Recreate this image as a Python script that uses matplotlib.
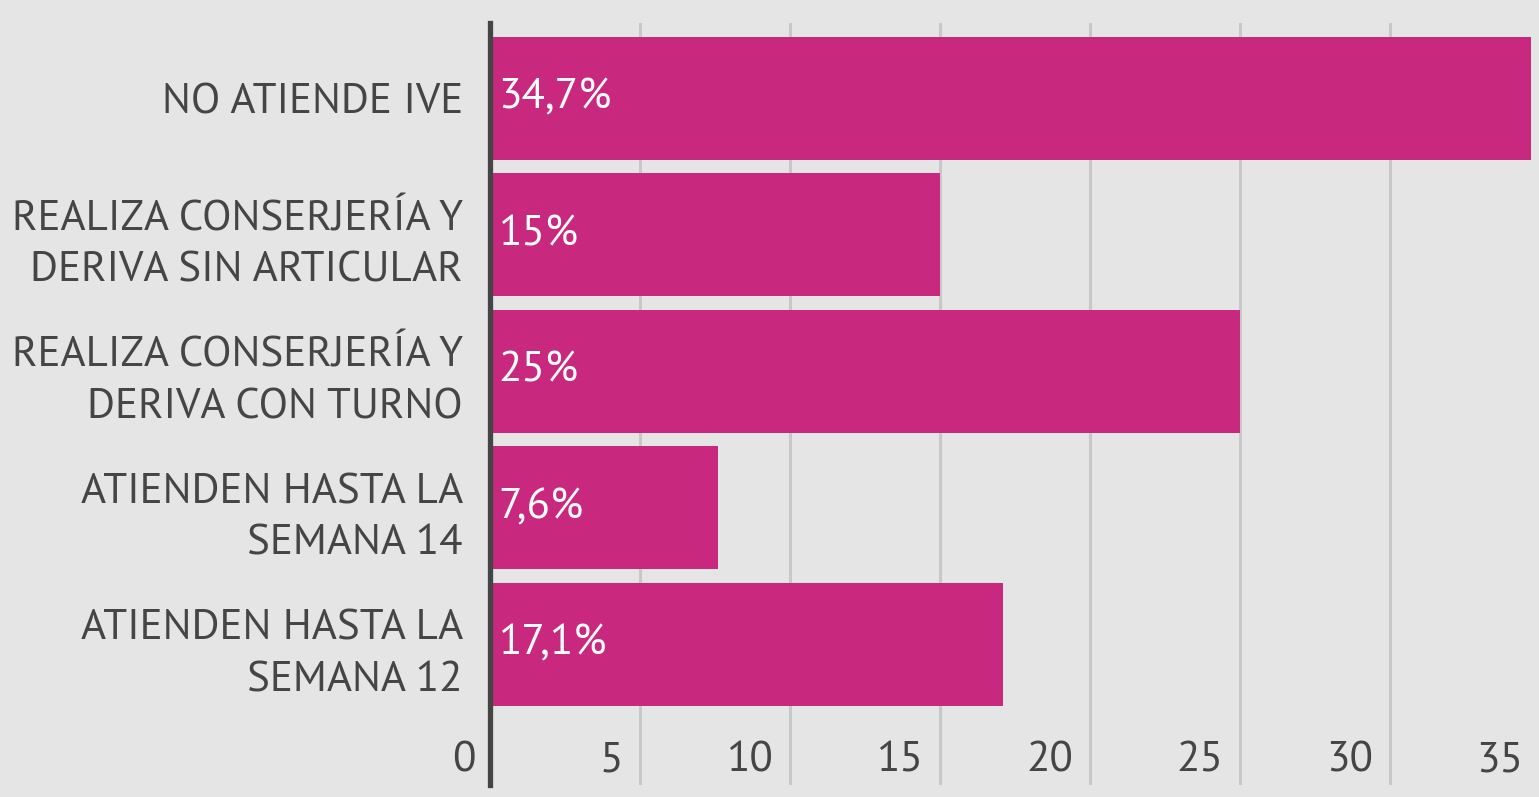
import matplotlib.pyplot as plt
from matplotlib import transforms

categories = [
    "NO ATIENDE IVE",
    "REALIZA CONSERJERÍA Y\nDERIVA SIN ARTICULAR",
    "REALIZA CONSERJERÍA Y\nDERIVA CON TURNO",
    "ATIENDEN HASTA LA\nSEMANA 14",
    "ATIENDEN HASTA LA\nSEMANA 12",
]
values = [34.7, 15.0, 25.0, 7.6, 17.1]
value_labels = ["34,7%", "15%", "25%", "7,6%", "17,1%"]
x_ticks = [0, 5, 10, 15, 20, 25, 30, 35]

bg = "#e5e5e5"
bar_color = "#c8287e"
text_color = "#454545"
plt.rcParams['font.family'] = ['PT Sans', 'Open Sans', 'DejaVu Sans']

fig = plt.figure(figsize=(15.39, 7.97), dpi=100, facecolor=bg)
ax = fig.add_axes([490 / 1539, 1 - 785 / 797, 1050 / 1539, 762 / 797])
ax.set_facecolor(bg)

ypos = list(range(len(categories)))
ax.barh(ypos, values, height=0.9, color=bar_color, zorder=2)
ax.set_xlim(0, 35)
ax.set_ylim(5.03, -0.55)

# grid
for t in x_ticks[1:]:
    ax.axvline(t, color="#c8c8c8", lw=2.2, zorder=1)

for s in ["top", "right", "bottom"]:
    ax.spines[s].set_visible(False)
ax.spines["left"].set_color(text_color)
ax.spines["left"].set_linewidth(3.8)
ax.spines["left"].set_zorder(3)

ax.set_xticks([])
ax.set_yticks(ypos)
ax.set_yticklabels(categories, fontsize=31, color=text_color, linespacing=1.42)
ax.tick_params(axis="y", length=0, pad=19.5)

# tick labels inside the plot, to the left of each gridline
trans = transforms.blended_transform_factory(ax.transData, ax.transAxes)
for t in x_ticks:
    off = transforms.offset_copy(trans, fig=fig, x=-14 if t == 0 else -17, y=0, units="dots")
    ax.text(t, 0.031, str(t), transform=off, ha="right", va="center",
            fontsize=31, color=text_color)

for y, v, lab in zip(ypos, values, value_labels):
    off = transforms.offset_copy(ax.transData, fig=fig, x=8, y=0, units="dots")
    ax.text(0, y, lab, transform=off, ha="left", va="center",
            fontsize=31, color="white", zorder=4)

fig.savefig("out.png", dpi=100, facecolor=bg)
